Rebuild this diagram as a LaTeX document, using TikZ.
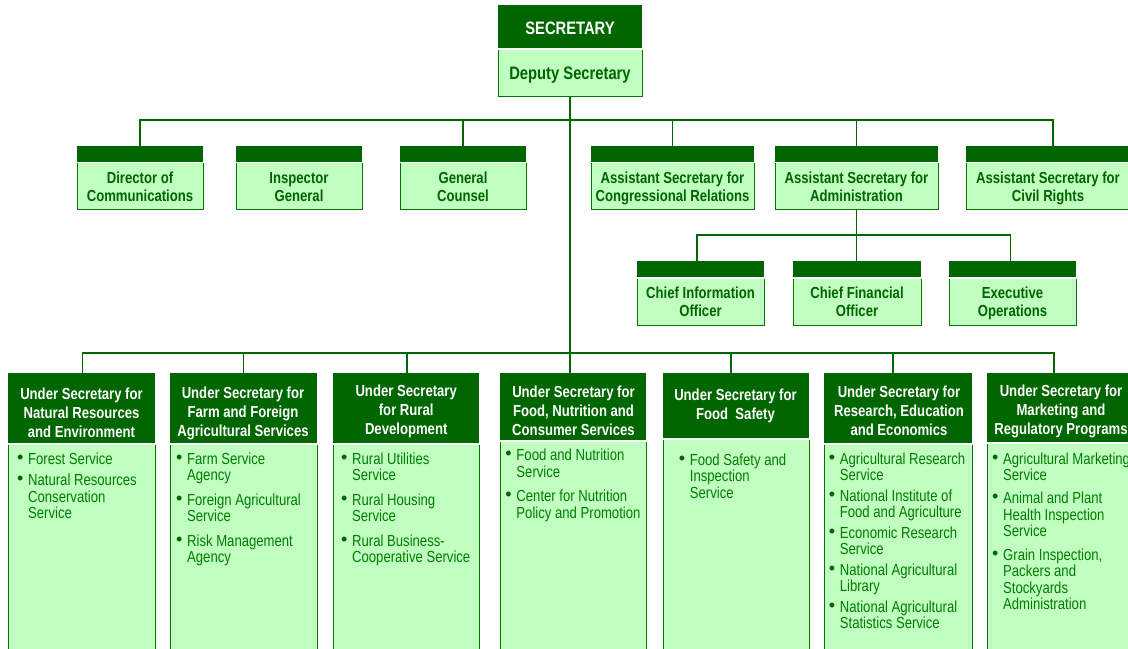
\documentclass[tikz,border=0pt]{standalone}
\usepackage{fontspec}
\setmainfont{Liberation Sans}[FakeStretch=0.82]
\newfontfamily\bulfont{Liberation Sans}
\usetikzlibrary{calc}
\definecolor{dkg}{RGB}{0,102,0}
\definecolor{ltg}{RGB}{192,255,192}
\definecolor{bdtxt}{RGB}{0,100,0}
\definecolor{lsttxt}{RGB}{0,125,0}
\definecolor{bordg}{RGB}{0,115,0}
\newcommand\blt{\raisebox{0.6pt}{\bulfont\fontsize{13.5}{12}\selectfont\textcolor{dkg}{•}}}
\newcommand\bordr[1]{\draw[bord] (#1.north west) -- (#1.south west) -- (#1.south east) -- (#1.north east);}
\begin{document}
\begin{tikzpicture}[x=0.75pt,y=-0.75pt,
 hd/.style 2 args={fill=dkg, draw=none, inner sep=0pt, outer sep=0pt, minimum width=#1*0.75pt, minimum height=#2*0.75pt, anchor=north west, text=white, align=center},
 bd/.style 2 args={fill=ltg, draw=none, inner sep=0pt, outer sep=0pt, minimum width=#1*0.75pt, minimum height=#2*0.75pt, anchor=north west, text=bdtxt, align=center, text depth=0pt, font=\bfseries\fontsize{12}{13.5}\selectfont},
 conn/.style={draw=dkg, line width=1.1pt},
 bord/.style={draw=bordg, line width=0.75pt},
 hdt/.style={text=white, align=center, inner sep=0pt, font=\bfseries\fontsize{12}{14.25}\selectfont},
 lst/.style={inner sep=0pt, anchor=base west, text=lsttxt, font=\fontsize{12}{12.4}\selectfont}]
\useasboundingbox (0,0) rectangle (1128,649);
\fill[white] (0,0) rectangle (1128,649);

% Secretary
\node[hd={144}{43}, text height=12.6pt, text depth=0pt, font=\bfseries\fontsize{13.5}{15}\selectfont] (sec) at (498,5) {SECRETARY};
\node[bd={144}{47}, font=\bfseries\fontsize{13.5}{15}\selectfont] (dep) at (498,50) {Deputy Secretary};
\bordr{dep}

% Staff offices
\node[hd={126}{16}] (dirh) at (77,146) {};
\node[bd={126}{46}] (dir) at (77,163.5) {Director of\\Communications};
\node[hd={126}{16}] (igh) at (236,146) {};
\node[bd={126}{46}] (ig) at (236,163.5) {Inspector\\General};
\node[hd={126}{16}] (gch) at (400,146) {};
\node[bd={126}{46}] (gc) at (400,163.5) {General\\Counsel};
\node[hd={163}{16}] (acrh) at (591,146) {};
\node[bd={163}{46}] (acr) at (591,163.5) {Assistant Secretary for\\Congressional Relations};
\node[hd={163}{16}] (aah) at (775,146) {};
\node[bd={163}{46}] (aa) at (775,163.5) {Assistant Secretary for\\Administration};
\node[hd={164}{16}] (acvrh) at (966,146) {};
\node[bd={164}{46}] (acvr) at (966,163.5) {Assistant Secretary for\\Civil Rights};
\foreach \n in {dir,ig,gc,acr,aa,acvr} {\bordr{\n}}

% Administration offices
\node[hd={127}{16}] (cioh) at (637,261) {};
\node[bd={127}{47}] (cio) at (637,278.5) {Chief Information\\Officer};
\node[hd={128}{16}] (cfoh) at (793,261) {};
\node[bd={128}{47}] (cfo) at (793,278.5) {Chief Financial\\Officer};
\node[hd={127}{16}] (exech) at (949,261) {};
\node[bd={127}{47}] (exec) at (949,278.5) {Executive\\Operations};
\foreach \n in {cio,cfo,exec} {\bordr{\n}}

% Under Secretaries
\node[hd={147}{70}] (us1h) at (8,373) {};
\node[bd={147}{215}] (us1) at (8,444.5) {};
\node[hd={147}{70}] (us2h) at (170,373) {};
\node[bd={147}{215}] (us2) at (170,444.5) {};
\node[hd={146}{70}] (us3h) at (333,373) {};
\node[bd={146}{215}] (us3) at (333,444.5) {};
\node[hd={146}{67}] (us4h) at (500,373) {};
\node[bd={146}{218}] (us4) at (500,441.5) {};
\node[hd={146}{65}] (us5h) at (663,373) {};
\node[bd={146}{220}] (us5) at (663,439.5) {};
\node[hd={148}{70}] (us6h) at (824,373) {};
\node[bd={148}{215}] (us6) at (824,444.5) {};
\node[hd={147}{69}] (us7h) at (987,373) {};
\node[bd={147}{216}] (us7) at (987,443.5) {};
\foreach \n in {us1,us2,us3,us4,us5,us6,us7} {\bordr{\n}}

\node[hdt] (us1t) at (81.5,412.5) {Under Secretary for\\Natural Resources\\and Environment};
\node[hdt] (us2t) at (243,413) {Under Secretary for\\Farm and Foreign\\Agricultural Services};
\node[hdt] (us3t) at (406.2,411) {Under Secretary\\for Rural\\Development};
\node[hdt] (us4t) at (573.5,410.5) {Under Secretary for\\Food, Nutrition and\\Consumer Services};
\node[hdt] (us5t) at (735.5,406.3) {Under Secretary for\\Food~ Safety};
\node[hdt] (us6t) at (899,410.5) {Under Secretary for\\Research, Education\\and Economics};
\node[hdt] (us7t) at (1061,411) {Under Secretary for\\Marketing and\\Regulatory Programs};

% Lists
\node[lst] (l1) at (16.8,464) {\begin{tabular}[t]{@{}l@{\hspace{3.6pt}}l@{}}
\blt & Forest Service\\[3.9pt]
\blt & Natural Resources\\ & Conservation\\ & Service
\end{tabular}};
\node[lst] (l2) at (175.8,464) {\begin{tabular}[t]{@{}l@{\hspace{3.6pt}}l@{}}
\blt & Farm Service\\ & Agency\\[6pt]
\blt & Foreign Agricultural\\ & Service\\[6pt]
\blt & Risk Management\\ & Agency
\end{tabular}};
\node[lst] (l3) at (340.8,464) {\begin{tabular}[t]{@{}l@{\hspace{3.6pt}}l@{}}
\blt & Rural Utilities\\ & Service\\[6pt]
\blt & Rural Housing\\ & Service\\[6pt]
\blt & Rural Business-\\ & Cooperative Service
\end{tabular}};
\node[lst] (l4) at (505.1,460.7) {\begin{tabular}[t]{@{}l@{\hspace{3.6pt}}l@{}}
\blt & Food and Nutrition\\ & Service\\[5.8pt]
\blt & Center for Nutrition\\ & Policy and Promotion
\end{tabular}};
\node[lst] (l5) at (678.5,465) {\begin{tabular}[t]{@{}l@{\hspace{3.6pt}}l@{}}
\blt & Food Safety and\\ & Inspection\\ & Service
\end{tabular}};
\node[lst] (l6) at (828.5,464) {\begin{tabular}[t]{@{}l@{\hspace{3.6pt}}l@{}}
\blt & Agricultural Research\\ & Service\\[3pt]
\blt & National Institute of\\ & Food and Agriculture\\[3pt]
\blt & Economic Research\\ & Service\\[3pt]
\blt & National Agricultural\\ & Library\\[3pt]
\blt & National Agricultural\\ & Statistics Service
\end{tabular}};
\node[lst] (l7) at (991.8,464) {\begin{tabular}[t]{@{}l@{\hspace{3.6pt}}l@{}}
\blt & Agricultural Marketing\\ & Service\\[5pt]
\blt & Animal and Plant\\ & Health Inspection\\ & Service\\[5pt]
\blt & Grain Inspection,\\ & Packers and\\ & Stockyards\\ & Administration
\end{tabular}};

% Connectors
\coordinate (sbL) at (140.5,120);
\coordinate (sbR) at (1053,120);
\draw[conn] (dep.south) -- (dep.south |- us4h.north);
\draw[conn] (dirh.north) |- (sbR) -- (sbR |- acvrh.north);
\draw[conn] (igh.north -| 300.5,0) -- (igh.north -| 300.5,0 |- sbL);
\draw[conn] (gch.north) -- (gch.north |- sbL);
\draw[conn] (acrh.north) -- (acrh.north |- sbL);
\draw[conn] (aah.north) -- (aah.north |- sbL);

\coordinate (abL) at (697,235);
\coordinate (abR) at (1010.7,235);
\draw[conn] (aa.south) -- (aa.south |- cfoh.north);
\draw[conn] (abL |- cioh.north) -- (abL) -- (abR) -- (abR |- exech.north);

\coordinate (c1) at (82.7,353);
\coordinate (c2) at (243.5,353);
\coordinate (c3) at (407,353);
\coordinate (c5) at (731,353);
\coordinate (c6) at (893,353);
\coordinate (c7) at (1054,353);
\draw[conn] (c1 |- us1h.north) -- (c1) -- (c7) -- (c7 |- us7h.north);
\draw[conn] (c2) -- (c2 |- us2h.north);
\draw[conn] (c3) -- (c3 |- us3h.north);
\draw[conn] (c5) -- (c5 |- us5h.north);
\draw[conn] (c6) -- (c6 |- us6h.north);
\end{tikzpicture}
\end{document}
